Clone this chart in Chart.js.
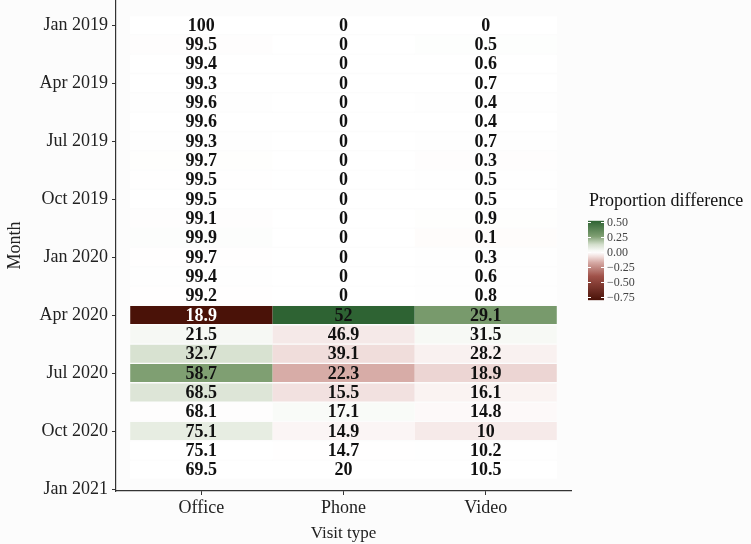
<!DOCTYPE html>
<html>
<head>
<meta charset="utf-8">
<script src="https://cdn.jsdelivr.net/npm/chart.js@4/dist/chart.umd.min.js"></script>
<style>
    html, body { margin: 0; padding: 0; background: #fcfcfc; }
    #wrap { width: 751px; height: 544px; position: relative; }
</style>
</head>
<body>
<div id="wrap"><canvas id="heatChart" width="751" height="544"></canvas></div>
<script>
// Данные: доля визитов (%) по месяцам
const months = [
    'Jan 2019', 'Feb 2019', 'Mar 2019', 'Apr 2019', 'May 2019', 'Jun 2019',
    'Jul 2019', 'Aug 2019', 'Sep 2019', 'Oct 2019', 'Nov 2019', 'Dec 2019',
    'Jan 2020', 'Feb 2020', 'Mar 2020', 'Apr 2020', 'May 2020', 'Jun 2020',
    'Jul 2020', 'Aug 2020', 'Sep 2020', 'Oct 2020', 'Nov 2020', 'Dec 2020'
];
const visitTypes = ['Office', 'Phone', 'Video'];

const office = [100, 99.5, 99.4, 99.3, 99.6, 99.6, 99.3, 99.7, 99.5, 99.5, 99.1, 99.9,
                99.7, 99.4, 99.2, 18.9, 21.5, 32.7, 58.7, 68.5, 68.1, 75.1, 75.1, 69.5];
const phone  = [0, 0, 0, 0, 0, 0, 0, 0, 0, 0, 0, 0,
                0, 0, 0, 52, 46.9, 39.1, 22.3, 15.5, 17.1, 14.9, 14.7, 20];
const video  = [0, 0.5, 0.6, 0.7, 0.4, 0.4, 0.7, 0.3, 0.5, 0.5, 0.9, 0.1,
                0.3, 0.6, 0.8, 29.1, 31.5, 28.2, 18.9, 16.1, 14.8, 10, 10.2, 10.5];

// Последний месяц, для которого на картинке есть заливка
const lastShadedMonth = 'Nov 2020';

const yTickLabels = ['Jan 2019', 'Apr 2019', 'Jul 2019', 'Oct 2019', 'Jan 2020',
                     'Apr 2020', 'Jul 2020', 'Oct 2020', 'Jan 2021'];
const legendTicks = [0.5, 0.25, 0, -0.25, -0.5, -0.75];

const series = [office, phone, video];
const FONT = '"Liberation Serif", "DejaVu Serif", serif';

// Разница долей с предыдущим месяцем
function monthDiffs(values) {
    const last = months.indexOf(lastShadedMonth);
    return values.map((v, i) => (i === 0 || i > last) ? 0 : (v - values[i - 1]) / 100);
}
const diffs = series.map(monthDiffs);
const allDiffs = diffs.flat();
const diffMin = Math.min(...allDiffs);
const diffMax = Math.max(...allDiffs);

// Цветовые шкалы (белый -> зелёный, белый -> красный)
const greenStops = [[0, [255, 255, 255]], [0.25, [210, 221, 202]], [0.5, [127, 159, 114]], [1, [46, 99, 51]]];
const redStops = [[0, [255, 255, 255]], [0.1, [240, 220, 218]], [0.21, [215, 172, 167]], [0.5, [160, 82, 74]], [1, [74, 18, 8]]];

function interp(stops, t) {
    t = Math.max(0, Math.min(1, t));
    for (let i = 1; i < stops.length; i++) {
        if (t <= stops[i][0]) {
            const [t0, c0] = stops[i - 1];
            const [t1, c1] = stops[i];
            const k = (t - t0) / (t1 - t0);
            const c = c0.map((a, j) => Math.round(a + (c1[j] - a) * k));
            return `rgb(${c[0]}, ${c[1]}, ${c[2]})`;
        }
    }
    const c = stops[stops.length - 1][1];
    return `rgb(${c[0]}, ${c[1]}, ${c[2]})`;
}

function fillColor(d) {
    if (d >= 0) return interp(greenStops, d / diffMax);
    return interp(redStops, d / diffMin);
}

// Подписи значений в клетках
const cellLabels = {
    id: 'cellLabels',
    afterDatasetsDraw(chart) {
        const ctx = chart.ctx;
        const xs = chart.scales.x;
        const ys = chart.scales.y;
        ctx.save();
        ctx.font = 'bold 18px ' + FONT;
        ctx.textAlign = 'center';
        ctx.textBaseline = 'middle';
        series.forEach((values, c) => {
            values.forEach((v, r) => {
                ctx.fillStyle = diffs[c][r] < -0.5 ? '#ffffff' : '#111111';
                ctx.fillText(String(v), xs.getPixelForValue(c), ys.getPixelForValue(r) + 1);
            });
        });
        ctx.restore();
    }
};

// Легенда-градиент справа
const colorLegend = {
    id: 'colorLegend',
    afterDraw(chart) {
        const ctx = chart.ctx;
        const x0 = 588, w = 16, zeroY = 252, perUnit = 60;
        const top = zeroY - diffMax * perUnit;
        const bottom = zeroY - diffMin * perUnit;
        ctx.save();
        ctx.fillStyle = '#111111';
        ctx.font = '18px ' + FONT;
        ctx.textAlign = 'left';
        ctx.textBaseline = 'alphabetic';
        ctx.fillText('Proportion difference', 589, 206);

        const grad = ctx.createLinearGradient(0, top, 0, bottom);
        const n = 40;
        for (let i = 0; i <= n; i++) {
            const v = diffMax - (diffMax - diffMin) * i / n;
            grad.addColorStop(i / n, fillColor(v));
        }
        ctx.fillStyle = grad;
        ctx.fillRect(x0, top, w, bottom - top);

        ctx.strokeStyle = '#ffffff';
        ctx.lineWidth = 1;
        ctx.font = '12px ' + FONT;
        ctx.textBaseline = 'middle';
        legendTicks.forEach(t => {
            const y = Math.round(zeroY - t * perUnit) + 0.5;
            ctx.beginPath();
            ctx.moveTo(x0, y); ctx.lineTo(x0 + 3, y);
            ctx.moveTo(x0 + w - 3, y); ctx.lineTo(x0 + w, y);
            ctx.stroke();
            ctx.fillStyle = '#444444';
            const txt = (t < 0 ? '\u2212' : '') + Math.abs(t).toFixed(2);
            ctx.fillText(txt, 607, y);
        });
        ctx.restore();
    }
};

function buildDatasets() {
    return visitTypes.map((name, c) => ({
        label: name,
        data: months.map((m, r) => ({ x: [c - 0.5, c + 0.5], y: r })),
        backgroundColor: diffs[c].map(fillColor),
        borderWidth: 0,
        barPercentage: 0.93,
        categoryPercentage: 1,
        grouped: false
    }));
}

function initChart() {
    const ctx = document.getElementById('heatChart').getContext('2d');
    const yTickValues = yTickLabels.map((l, i) => i * 3);

    return new Chart(ctx, {
        type: 'bar',
        data: { datasets: buildDatasets() },
        plugins: [cellLabels, colorLegend],
        options: {
            indexAxis: 'y',
            responsive: false,
            animation: false,
            layout: { padding: { top: 0, right: 180, left: 0, bottom: 0 } },
            plugins: {
                legend: { display: false },
                tooltip: { enabled: false }
            },
            scales: {
                x: {
                    type: 'linear',
                    min: -0.6,
                    max: 2.6,
                    offset: false,
                    afterBuildTicks: scale => { scale.ticks = visitTypes.map((t, i) => ({ value: i })); },
                    afterFit: scale => {
                        scale.height = 53;
                        scale.paddingLeft = 0;
                        scale.paddingRight = 0;
                    },
                    ticks: {
                        autoSkip: false,
                        maxRotation: 0,
                        padding: 2,
                        color: '#222222',
                        font: { family: FONT, size: 18 },
                        callback: (v, i) => visitTypes[i]
                    },
                    grid: { display: true, offset: false, drawOnChartArea: false, drawTicks: true, tickLength: 4, color: '#333333' },
                    border: { display: true, color: '#333333', width: 1.2 },
                    title: {
                        display: true,
                        text: 'Visit type',
                        color: '#222222',
                        font: { family: FONT, size: 17 },
                        padding: { top: 0, bottom: 0 }
                    }
                },
                y: {
                    type: 'linear',
                    reverse: true,
                    min: -1.3,
                    max: 24.1,
                    offset: false,
                    afterBuildTicks: scale => { scale.ticks = yTickValues.map(v => ({ value: v })); },
                    afterFit: scale => {
                        scale.width = 116;
                        scale.paddingTop = 0;
                        scale.paddingBottom = 0;
                    },
                    ticks: {
                        autoSkip: false,
                        padding: 4,
                        color: '#222222',
                        font: { family: FONT, size: 18 },
                        callback: (v, i) => yTickLabels[i]
                    },
                    grid: { display: true, offset: false, drawOnChartArea: false, drawTicks: true, tickLength: 4, color: '#333333' },
                    border: { display: true, color: '#333333', width: 1.2 },
                    title: {
                        display: true,
                        text: 'Month',
                        color: '#222222',
                        font: { family: FONT, size: 18 },
                        padding: { top: 4, bottom: 0 }
                    }
                }
            }
        }
    });
}

document.addEventListener('DOMContentLoaded', () => {
    initChart();
});
</script>
</body>
</html>
